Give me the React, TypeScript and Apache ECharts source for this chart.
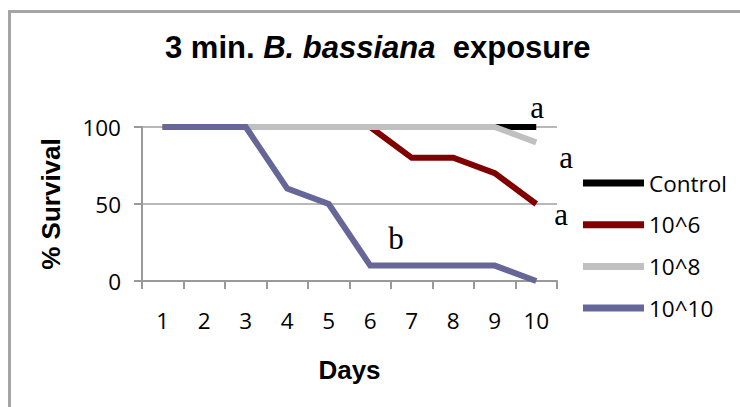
import React, { useEffect, useRef } from "react";
import * as echarts from "echarts";

// Survival over ten days after a 3-minute exposure
const days = ["1", "2", "3", "4", "5", "6", "7", "8", "9", "10"];
const control = [100, 100, 100, 100, 100, 100, 100, 100, 100, 100];
const dose6 = [100, 100, 100, 100, 100, 100, 80, 80, 70, 50];
const dose8 = [100, 100, 100, 100, 100, 100, 100, 100, 100, 90];
const dose10 = [100, 100, 100, 60, 50, 10, 10, 10, 10, 0];
const seriesNames = ["Control", "10^6", "10^8", "10^10"];
const seriesColors = ["#000000", "#800000", "#c0c0c0", "#666699"];
const yTicks = [0, 50, 100];

// Significance letters placed beside the curves
const letters = [
  { text: "a", x: 537, y: 107 },
  { text: "a", x: 566, y: 157 },
  { text: "a", x: 561, y: 214 },
  { text: "b", x: 396, y: 238 },
];

export default function App() {
  const ref = useRef<HTMLDivElement>(null);

  useEffect(() => {
    if (!ref.current) return;
    const chart = echarts.init(ref.current, undefined, { renderer: "svg" });
    const values = [control, dose6, dose8, dose10];
    const labelFont = "'Open Sans', sans-serif";
    const boldFont = "'Liberation Sans', Arial, sans-serif";

    chart.setOption({
      animation: false,
      backgroundColor: "#ffffff",
      title: {
        left: 160,
        top: 27,
        text: "{n|3 min. }{i|B. bassiana}{n|  exposure}",
        textStyle: {
          rich: {
            n: { fontFamily: boldFont, fontWeight: "bold", fontSize: 31, color: "#000" },
            i: {
              fontFamily: boldFont,
              fontWeight: "bold",
              fontStyle: "italic",
              fontSize: 31,
              color: "#000",
            },
          },
        },
      },
      legend: {
        orient: "vertical",
        left: 583,
        top: 171,
        padding: 0,
        icon: "rect",
        itemWidth: 61,
        itemHeight: 7,
        itemGap: 17.7,
        data: seriesNames,
        textStyle: {
          fontFamily: labelFont,
          fontSize: 22.5,
          lineHeight: 24,
          color: "#000",
        },
      },
      grid: { left: 142, right: 183, top: 127, bottom: 126 },
      xAxis: {
        type: "category",
        data: days,
        boundaryGap: true,
        name: "Days",
        nameLocation: "middle",
        nameGap: 76,
        nameTextStyle: { fontFamily: boldFont, fontWeight: "bold", fontSize: 26, color: "#000" },
        axisLine: { lineStyle: { color: "#999999", width: 2 } },
        axisTick: { show: true, length: 8, alignWithLabel: false, lineStyle: { color: "#999999", width: 2 } },
        axisLabel: { fontFamily: labelFont, fontSize: 22.5, color: "#000", margin: 28 },
        splitLine: { show: false },
      },
      yAxis: {
        type: "value",
        min: yTicks[0],
        max: yTicks[yTicks.length - 1],
        interval: 50,
        name: "% Survival",
        nameLocation: "middle",
        nameGap: 78,
        nameTextStyle: { fontFamily: boldFont, fontWeight: "bold", fontSize: 26, color: "#000" },
        axisLine: { show: true, lineStyle: { color: "#999999", width: 2 } },
        axisTick: { show: true, length: 8, lineStyle: { color: "#999999", width: 2 } },
        axisLabel: { fontFamily: labelFont, fontSize: 22.5, color: "#000", margin: 21 },
        splitLine: { show: true, lineStyle: { color: "#a0a0a0", width: 1.5 } },
      },
      series: seriesNames.map((name, i) => ({
        name,
        type: "line",
        data: values[i],
        symbol: "none",
        color: seriesColors[i],
        lineStyle: { color: seriesColors[i], width: 6, cap: "butt", join: "miter" },
        z: 2 + i,
      })),
      graphic: [
        {
          type: "rect",
          shape: { x: 9.5, y: 11.5, width: 800, height: 500 },
          style: { fill: "none", stroke: "#a5a5a5", lineWidth: 3 },
          z: 100,
        },
        ...letters.map((l) => ({
          type: "text",
          x: l.x,
          y: l.y,
          style: {
            text: l.text,
            fontFamily: "'Liberation Serif', 'Times New Roman', serif",
            fontSize: 31,
            fill: "#000",
            align: "center",
            verticalAlign: "middle",
          },
          z: 100,
        })),
      ],
    });

    return () => chart.dispose();
  }, []);

  return (
    <div
      ref={ref}
      style={{ position: "fixed", left: 0, top: 0, width: 740, height: 407 }}
    />
  );
}
